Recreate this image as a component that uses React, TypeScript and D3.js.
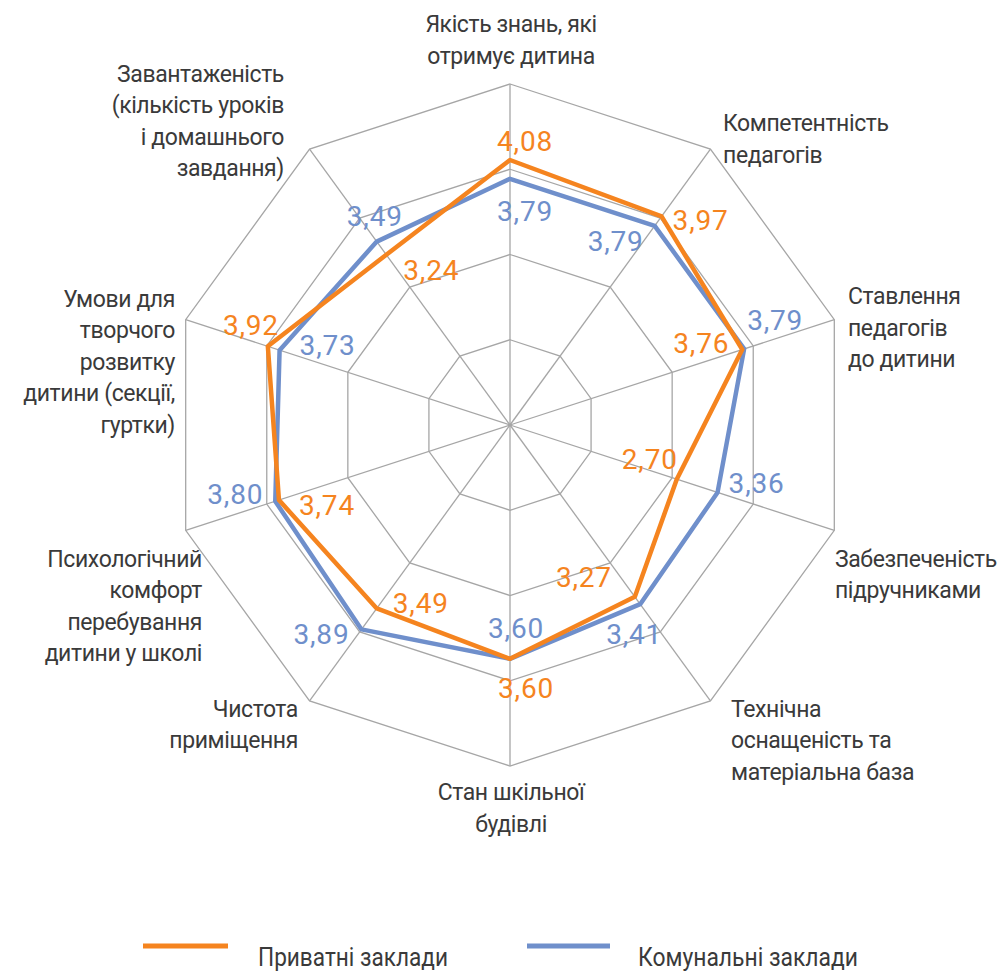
import React from "react";
import * as d3 from "d3";

const categories: string[][] = [
  ["Якість знань, які", "отримує дитина"],
  ["Компетентність", "педагогів"],
  ["Ставлення", "педагогів", "до дитини"],
  ["Забезпеченість", "підручниками"],
  ["Технічна", "оснащеність та", "матеріальна база"],
  ["Стан шкільної", "будівлі"],
  ["Чистота", "приміщення"],
  ["Психологічний", "комфорт", "перебування", "дитини у школі"],
  ["Умови для", "творчого", "розвитку", "дитини (секції,", "гуртки)"],
  ["Завантаженість", "(кількість уроків", "і домашнього", "завдання)"],
];

const privateValues = [4.08, 3.97, 3.76, 2.7, 3.27, 3.6, 3.49, 3.74, 3.92, 3.24];
const communalValues = [3.79, 3.79, 3.79, 3.36, 3.41, 3.6, 3.89, 3.8, 3.73, 3.49];
const seriesNames = ["Приватні заклади", "Комунальні заклади"];

// layout (not data)
const W = 1005;
const H = 971;
const CX = 510;
const CY = 425;
const R = 341;
const MAXV = 5.25;
const RINGS = 4;
const ORANGE = "#F5841F";
const BLUE = "#6F8FCB";
const GRID = "#A6A6A6";
const TEXT = "#3A3A3A";

// category label placement relative to outer vertex: anchor, dx, dy (first baseline)
const catLayout: { anchor: string; dx: number; dy: number }[] = [
  { anchor: "middle", dx: 1, dy: -52 },
  { anchor: "start", dx: 12.6, dy: -18 },
  { anchor: "start", dx: 13.7, dy: -15.6 },
  { anchor: "start", dx: 0.7, dy: 36.3 },
  { anchor: "start", dx: 20.6, dy: 15.8 },
  { anchor: "middle", dx: 1, dy: 34 },
  { anchor: "end", dx: -11.6, dy: 15.8 },
  { anchor: "end", dx: 16.3, dy: 36.3 },
  { anchor: "end", dx: -10.7, dy: -12.9 },
  { anchor: "end", dx: -25.6, dy: -67.4 },
];
const LINE_H = 31.5;

// data label offsets from the point (label centre)
const privateLabelOffsets: [number, number][] = [
  [15, -19], [39, 4], [-41, -7], [-27, -20], [-51, -20],
  [16, 29], [44, -5], [48, 5], [-17, -21], [45, 15],
];
const communalLabelOffsets: [number, number][] = [
  [15, 32], [-39, 15], [31, -29], [39, -10], [-6, 30],
  [6, -31], [-40, 5], [-40, -7], [48, -5], [-2, -26],
];

const n = categories.length;
const angle = (i: number) => (i * 2 * Math.PI) / n;
const r = d3.scaleLinear().domain([0, MAXV]).range([0, R]);
const pt = (i: number, rad: number): [number, number] => [
  CX + rad * Math.sin(angle(i)),
  CY - rad * Math.cos(angle(i)),
];

const fmt = (v: number) => d3.format(".2f")(v).replace(".", ",");

export default function App() {
  const radial = d3
    .lineRadial<number>()
    .angle((_, i) => angle(i))
    .radius((d) => r(d))
    .curve(d3.curveLinearClosed);

  const ringPath = (rad: number) =>
    d3
      .line<number>()
      .x((i) => pt(i, rad)[0])
      .y((i) => pt(i, rad)[1])
      .curve(d3.curveLinearClosed)(d3.range(n)) as string;

  const series = [
    { values: communalValues, color: BLUE, offsets: communalLabelOffsets },
    { values: privateValues, color: ORANGE, offsets: privateLabelOffsets },
  ];

  return (
    <svg
      width={W}
      height={H}
      style={{ position: "absolute", left: 0, top: 0, background: "#fff" }}
      fontFamily="Roboto, 'Open Sans', sans-serif"
    >
      <rect width={W} height={H} fill="#fff" />
      {/* grid rings */}
      {d3.range(1, RINGS + 1).map((k) => (
        <path
          key={"ring" + k}
          d={ringPath((R * k) / RINGS)}
          fill="none"
          stroke={GRID}
          strokeWidth={1.3}
        />
      ))}
      {/* spokes */}
      {d3.range(n).map((i) => {
        const [x, y] = pt(i, R);
        return (
          <line key={"sp" + i} x1={CX} y1={CY} x2={x} y2={y} stroke={GRID} strokeWidth={1.3} />
        );
      })}
      {/* series */}
      {series.map((s, si) => (
        <path
          key={"s" + si}
          d={radial(s.values) as string}
          transform={`translate(${CX},${CY})`}
          fill="none"
          stroke={s.color}
          strokeWidth={4.5}
          strokeLinejoin="round"
        />
      ))}
      {/* data labels */}
      {series.map((s, si) =>
        s.values.map((v, i) => {
          const [x, y] = pt(i, r(v));
          const [dx, dy] = s.offsets[i];
          return (
            <text
              key={`l${si}-${i}`}
              x={x + dx}
              y={y + dy}
              dy="0.36em"
              textAnchor="middle"
              fill={s.color}
              fontSize={28}
              fontWeight={400}
              letterSpacing={0.8}
            >
              {fmt(v)}
            </text>
          );
        })
      )}
      {/* category labels */}
      {categories.map((lines, i) => {
        const [ox, oy] = pt(i, R);
        const L = catLayout[i];
        return (
          <text
            key={"c" + i}
            textAnchor={L.anchor as any}
            fill={TEXT}
            fontSize={23}
            letterSpacing={-0.4}
          >
            {lines.map((ln, j) => (
              <tspan key={j} x={ox + L.dx} y={oy + L.dy + j * LINE_H}>
                {ln}
              </tspan>
            ))}
          </text>
        );
      })}
      {/* legend */}
      <g>
        <line x1={143} x2={228} y1={946} y2={946} stroke={ORANGE} strokeWidth={5} />
        <text x={258} y={966} fontSize={26} fill={TEXT} textLength={190} lengthAdjust="spacingAndGlyphs">
          {seriesNames[0]}
        </text>
        <line x1={527} x2={610} y1={946} y2={946} stroke={BLUE} strokeWidth={5} />
        <text x={638} y={966} fontSize={26} fill={TEXT} textLength={220} lengthAdjust="spacingAndGlyphs">
          {seriesNames[1]}
        </text>
      </g>
    </svg>
  );
}
